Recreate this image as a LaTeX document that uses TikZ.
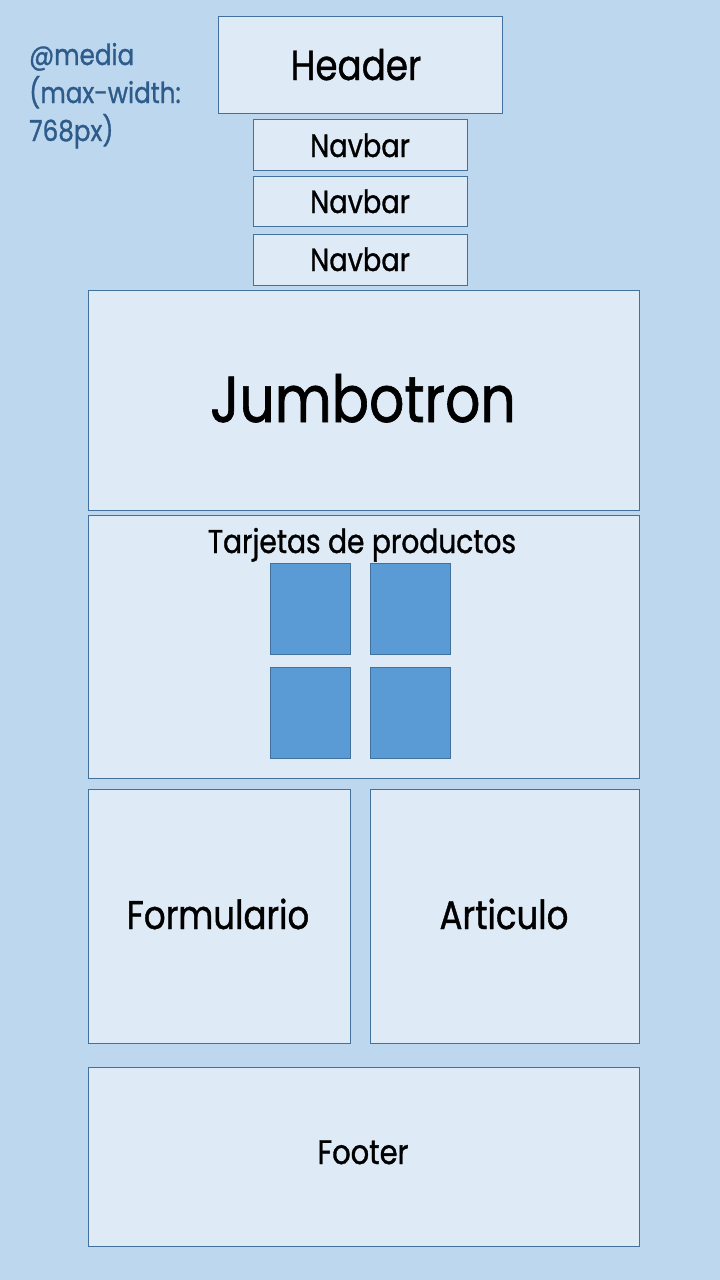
\documentclass[tikz,border=0pt]{standalone}
\usepackage{fontspec}
\setmainfont{Poppins}[FakeStretch=0.85,FakeBold=1]
\definecolor{bgc}{HTML}{BDD7EE}
\definecolor{boxc}{HTML}{DEEBF7}
\definecolor{linec}{HTML}{41719C}
\definecolor{cardc}{HTML}{5B9BD5}
\definecolor{mediac}{HTML}{2E5C8A}
\begin{document}
\begin{tikzpicture}[x=1pt,y=-1pt,
  area/.style={draw=linec,fill=boxc,line width=0.8pt},
  card/.style={draw=linec,fill=cardc,line width=0.8pt},
  lbl/.style={text=black,inner sep=0pt,anchor=base},
  mtxt/.style={text=mediac,inner sep=0pt,anchor=base west,font=\fontsize{29}{32}\selectfont}]
\useasboundingbox (0,0) rectangle (720,1280);
\fill[bgc] (0,0) rectangle (720,1280);
% boxes
\draw[area] (218,16) rectangle (502,113);
\draw[area] (253,119) rectangle (467,170);
\draw[area] (253,176) rectangle (467,226);
\draw[area] (253,234) rectangle (467,285);
\draw[area] (88,290) rectangle (639,510);
\draw[area] (88,515) rectangle (639,778);
\draw[card] (270,563) rectangle (350,654);
\draw[card] (370,563) rectangle (450,654);
\draw[card] (270,667) rectangle (350,758);
\draw[card] (370,667) rectangle (450,758);
\draw[area] (88,789) rectangle (350,1043);
\draw[area] (370,789) rectangle (639,1043);
\draw[area] (88,1067) rectangle (639,1246);
% labels
\node[lbl,font=\fontsize{42}{46}\selectfont] (header) at (356,80) {Header};
\node[lbl,font=\fontsize{32}{36}\selectfont] (nav1) at (360,157) {Navbar};
\node[lbl,font=\fontsize{32}{36}\selectfont] (nav2) at (360,213) {Navbar};
\node[lbl,font=\fontsize{32}{36}\selectfont] (nav3) at (360,271) {Navbar};
\node[lbl,font=\fontsize{65}{70}\selectfont] (jumbo) at (363,422) {Jumbotron};
\node[lbl,font=\fontsize{33}{36}\selectfont] (tarj) at (362,553) {Tarjetas de productos};
\node[lbl,font=\fontsize{40}{44}\selectfont] (form) at (218,929) {Formulario};
\node[lbl,font=\fontsize{40}{44}\selectfont] (art) at (504,929) {Articulo};
\node[lbl,font=\fontsize{34}{38}\selectfont] (foot) at (363,1164) {Footer};
\node[mtxt] (media1) at (29,65) {@media};
\node[mtxt] (media2) at (29,103) {(max-width:};
\node[mtxt] (media3) at (29,141) {768px)};
\end{tikzpicture}
\end{document}
